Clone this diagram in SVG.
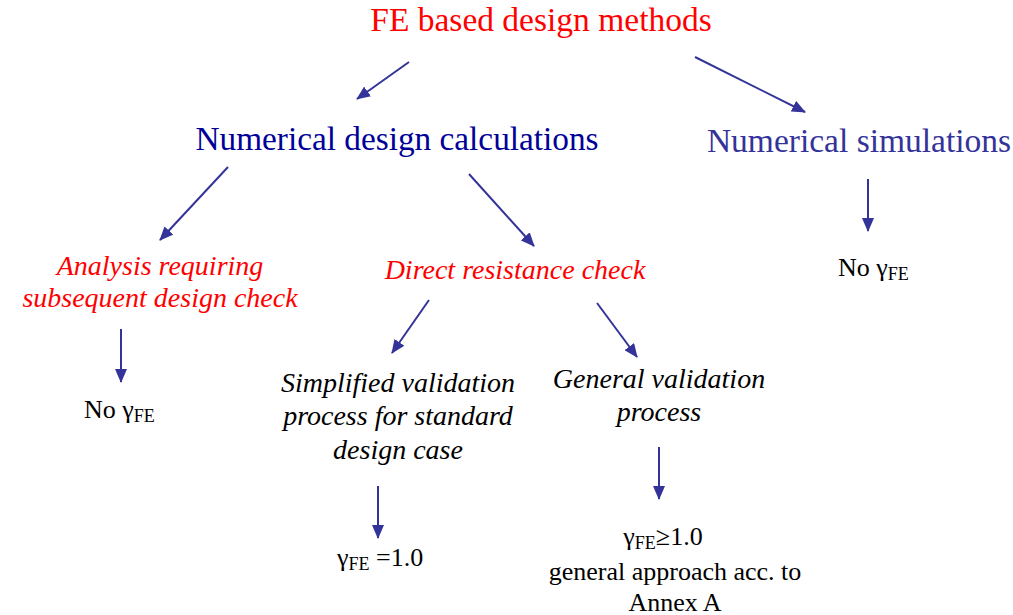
<svg xmlns="http://www.w3.org/2000/svg" width="1013" height="615" viewBox="0 0 1013 615">
  <style>
    text { font-family: "Times New Roman", Times, "Liberation Serif", "Nimbus Roman", FreeSerif, "DejaVu Serif", serif; }
    .title { font-size: 33.5px; fill: #ff0000; }
    .lvl1 { font-size: 33.3px; fill: #000099; }
    .lvl1b { font-size: 33.5px; fill: #333399; }
    .red { font-size: 28px; fill: #ff0000; font-style: italic; }
    .it { font-size: 28px; fill: #000000; font-style: italic; }
    .res { font-size: 26px; fill: #000000; }
    .sub { font-size: 18px; }
    .conn { stroke: #333399; stroke-width: 2; fill: none; marker-end: url(#arrow); }
  </style>
  <defs>
    <marker id="arrow" viewBox="0 0 14 12" refX="13" refY="6" markerWidth="14" markerHeight="12" markerUnits="userSpaceOnUse" orient="auto">
      <path d="M0,0 L14,6 L0,12 z" fill="#333399"/>
    </marker>
  </defs>

  <g id="connectors">
    <line class="conn" x1="409" y1="62" x2="357" y2="99"/>
    <line class="conn" x1="695" y1="57" x2="805" y2="112"/>
    <line class="conn" x1="228" y1="167" x2="160" y2="240"/>
    <line class="conn" x1="469" y1="174" x2="534" y2="246"/>
    <line class="conn" x1="429" y1="300" x2="392" y2="353"/>
    <line class="conn" x1="597" y1="303" x2="637" y2="357"/>
    <line class="conn" x1="121" y1="329" x2="121" y2="382"/>
    <line class="conn" x1="868" y1="179" x2="868" y2="231"/>
    <line class="conn" x1="378" y1="486" x2="378" y2="538"/>
    <line class="conn" x1="659" y1="447" x2="659" y2="499"/>
  </g>

  <g id="fe-methods">
    <text class="title" x="541" y="31" text-anchor="middle">FE based design methods</text>
  </g>
  <g id="numerical-design">
    <text class="lvl1" x="397" y="150" text-anchor="middle">Numerical design calculations</text>
  </g>
  <g id="numerical-simulations">
    <text class="lvl1b" x="859" y="152" text-anchor="middle">Numerical simulations</text>
  </g>
  <g id="analysis">
    <text class="red" x="160" y="275" text-anchor="middle">Analysis requiring</text>
    <text class="red" x="160" y="307" text-anchor="middle">subsequent design check</text>
  </g>
  <g id="direct-check">
    <text class="red" x="515" y="279" text-anchor="middle">Direct resistance check</text>
  </g>
  <g id="simplified">
    <text class="it" x="398" y="392" text-anchor="middle">Simplified validation</text>
    <text class="it" x="398" y="425" text-anchor="middle">process for standard</text>
    <text class="it" x="398" y="459" text-anchor="middle">design case</text>
  </g>
  <g id="general">
    <text class="it" x="659" y="388" text-anchor="middle">General validation</text>
    <text class="it" x="659" y="421" text-anchor="middle">process</text>
  </g>
  <g id="no-gamma-left">
    <text class="res" x="84" y="418">No γ<tspan class="sub" dy="4">FE</tspan></text>
  </g>
  <g id="no-gamma-right">
    <text class="res" x="838" y="276">No γ<tspan class="sub" dy="4">FE</tspan></text>
  </g>
  <g id="gamma-equal">
    <text class="res" x="337" y="566">γ<tspan class="sub" dy="4">FE</tspan><tspan dy="-4"> =1.0</tspan></text>
  </g>
  <g id="gamma-general">
    <text class="res" x="663" y="545" text-anchor="middle">γ<tspan class="sub" dy="4">FE</tspan><tspan dy="-4">≥1.0</tspan></text>
    <text class="res" x="675" y="580" text-anchor="middle">general approach acc. to</text>
    <text class="res" x="675" y="611" text-anchor="middle">Annex A</text>
  </g>
</svg>
